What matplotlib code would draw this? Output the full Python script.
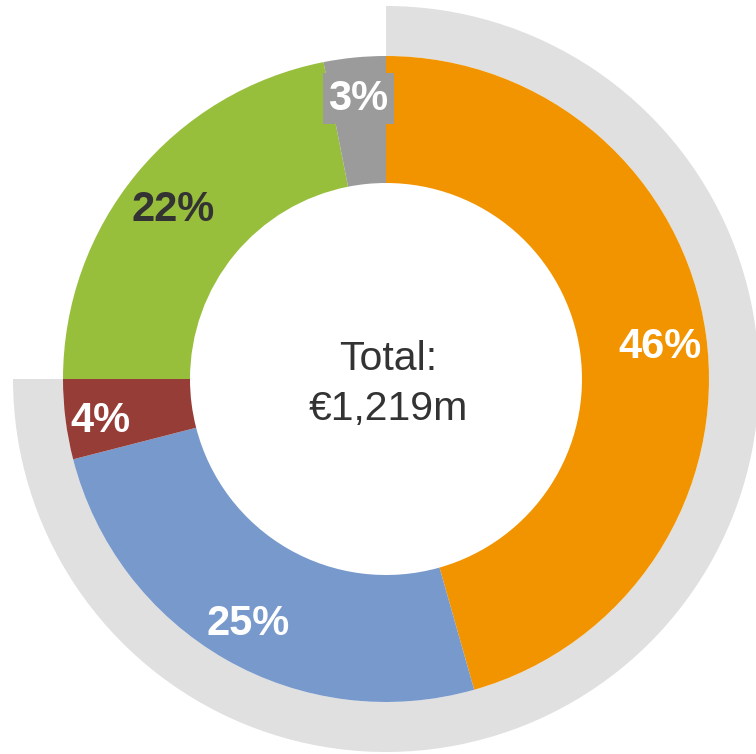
import matplotlib
matplotlib.use('Agg')
import numpy as np
import matplotlib.pyplot as plt

# shares, clockwise from the top
segments = ['Orange', 'Blue', 'Red', 'Green', 'Grey']
shares = [45.6, 25.4, 4.0, 21.9, 3.1]
colors = ['#F29400', '#7799CC', '#973D38', '#97BF3B', '#9B9B9B']
label_colors = ['white', 'white', 'white', '#333333', 'white']
ring_share = sum(shares[:3])   # outer grey arc covers first three
total_text = 'Total:\n€1,219m'

plt.rcParams['font.family'] = ['Liberation Sans', 'DejaVu Sans']

fig = plt.figure(figsize=(7.56, 7.54), dpi=100)
ax = fig.add_axes([0, 0, 1, 1])

cx, cy = 386, 375
r_out = 323
r_in = 196

# outer grey arc
ax.pie([ring_share, 100 - ring_share], colors=['#E0E0E0', 'none'],
       radius=373, center=(cx, cy), startangle=90, counterclock=False,
       wedgeprops=dict(width=373 - r_out, linewidth=0))

wedges, texts, autotexts = ax.pie(
    shares, colors=colors, radius=r_out, center=(cx, cy),
    startangle=90, counterclock=False,
    wedgeprops=dict(width=r_out - r_in, linewidth=0),
    autopct=lambda p: '%d%%' % round(p), pctdistance=0.86,
    textprops=dict(fontsize=30, fontweight='bold'))

for w, t, c in zip(wedges, autotexts, label_colors):
    t.set_color(c)
    # excel-ish: label sits a bit lower, outer small slices pushed outwards
    mid = np.deg2rad((w.theta1 + w.theta2) / 2)
    share = (w.theta2 - w.theta1) / 3.6
    r = 0.89 * r_out if share < 5 else 0.855 * r_out
    t.set_position((cx + r * np.cos(mid), cy + r * np.sin(mid) - 6))

# the small grey slice gets a box behind its label
autotexts[4].set_bbox(dict(boxstyle='square,pad=0.13', fc=colors[4], ec='none'))

ax.text(cx + 2, cy - 5, total_text, ha='center', va='center',
        fontsize=29.5, color='#333333', linespacing=1.38)

ax.set_xlim(0, 756)
ax.set_ylim(0, 754)
ax.set_aspect('equal')
ax.axis('off')

plt.savefig('out.png', dpi=100)
